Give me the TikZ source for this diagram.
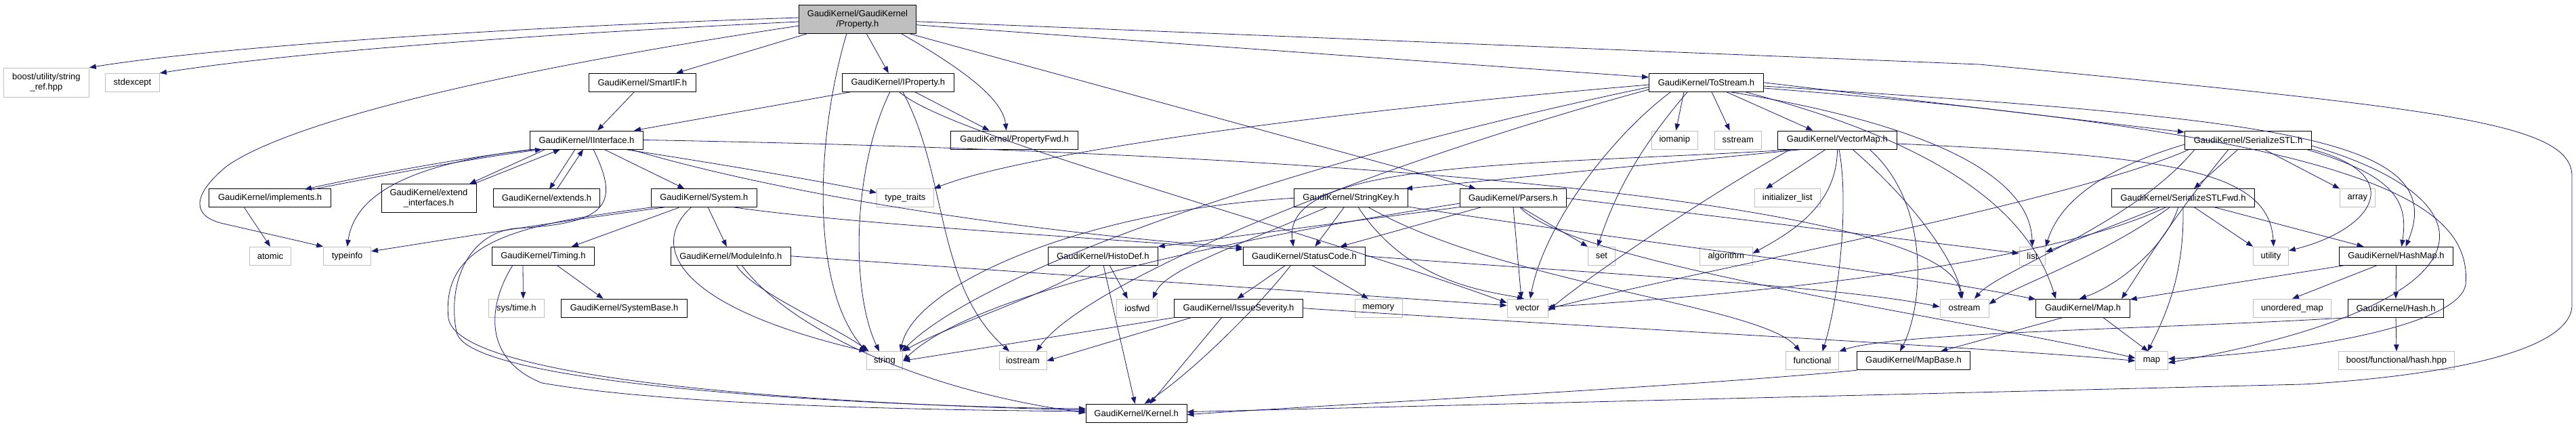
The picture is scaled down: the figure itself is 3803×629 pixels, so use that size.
\documentclass[tikz,border=0pt]{standalone}
\usepackage{fontspec}
\setmainfont{Liberation Sans}
\usetikzlibrary{arrows.meta}
\definecolor{edgec}{HTML}{191970}
\definecolor{sysc}{HTML}{BFBFBF}
\begin{document}
\begin{tikzpicture}[x=1pt,y=-1pt,
  box/.style={draw=black, fill=white, inner sep=0pt, minimum height=27pt, line width=0.9pt,
    font=\fontsize{13}{15}\selectfont, align=center},
  sys/.style={box, draw=sysc},
  dep/.style={draw=edgec, line width=0.8pt, -{Triangle[length=10pt,width=7.5pt]}}]
\useasboundingbox (0,0) rectangle (3803,629);
% row 1
\node[box, fill=sysc, minimum width=173pt, minimum height=42pt] (root) at (1266,28.3) {GaudiKernel/GaudiKernel\\/Property.h};
% row 2
\node[sys, minimum width=126pt, minimum height=43pt] (boost) at (68.4,121.7) {boost/utility/string\\\_ref.hpp};
\node[sys, minimum width=80pt] (stdexcept) at (195.5,121.8) {stdexcept};
\node[box, minimum width=157.5pt] (smartif) at (948.3,121.8) {GaudiKernel/SmartIF.h};
\node[box, minimum width=164.6pt] (iprop) at (1325.8,121.8) {GaudiKernel/IProperty.h};
\node[box, minimum width=169.2pt] (tostream) at (2519,121.8) {GaudiKernel/ToStream.h};
% row 3
\node[box, minimum width=167pt] (iinter) at (866,206.5) {GaudiKernel/IInterface.h};
\node[box, minimum width=187.4pt] (propfwd) at (1497.6,206.5) {GaudiKernel/PropertyFwd.h};
\node[sys, minimum width=67.9pt] (iomanip) at (2472.3,206.5) {iomanip};
\node[sys, minimum width=68.8pt] (sstream) at (2565.7,206.5) {sstream};
\node[box, minimum width=176.3pt] (vecmap) at (2712.3,206.5) {GaudiKernel/VectorMap.h};
\node[box, minimum width=187.3pt] (serstl) at (3319,206.5) {GaudiKernel/SerializeSTL.h};
% row 4
\node[box, minimum width=179.5pt] (impl) at (398.6,292.3) {GaudiKernel/implements.h};
\node[box, minimum width=140pt, minimum height=42pt] (extint) at (633,292.3) {GaudiKernel/extend\\\_interfaces.h};
\node[box, minimum width=157pt] (extends) at (807,292.3) {GaudiKernel/extends.h};
\node[box, minimum width=156pt] (system) at (1039.4,292.3) {GaudiKernel/System.h};
\node[sys, minimum width=83.8pt] (typetr) at (1336.4,292.3) {type\_traits};
\node[box, minimum width=168.3pt] (strkey) at (1994.5,292.3) {GaudiKernel/StringKey.h};
\node[box, minimum width=157pt] (parsers) at (2233.8,292.3) {GaudiKernel/Parsers.h};
\node[sys, minimum width=96.4pt] (initl) at (2638.8,292.3) {initializer\_list};
\node[box, minimum width=210.8pt] (serfwd) at (3223,292.3) {GaudiKernel/SerializeSTLFwd.h};
\node[sys, minimum width=51.9pt] (array) at (3480.3,292.3) {array};
% row 5
\node[sys, minimum width=61pt] (atomic) at (399,377.8) {atomic};
\node[sys, minimum width=70pt] (typeinfo) at (512.6,377.8) {typeinfo};
\node[box, minimum width=150.9pt] (timing) at (801.9,377.8) {GaudiKernel/Timing.h};
\node[box, minimum width=176.6pt] (modinfo) at (1078.8,377.8) {GaudiKernel/ModuleInfo.h};
\node[box, minimum width=161.7pt] (histo) at (1628.3,377.8) {GaudiKernel/HistoDef.h};
\node[box, minimum width=180.4pt] (status) at (1925.4,377.8) {GaudiKernel/StatusCode.h};
\node[sys, minimum width=40.2pt] (set) at (2364.4,377.8) {set};
\node[sys, minimum width=77.7pt] (algo) at (2548.2,377.8) {algorithm};
\node[sys, minimum width=38.4pt] (list) at (3000.4,377.8) {list};
\node[sys, minimum width=51.9pt] (utility) at (3352.5,377.8) {utility};
\node[box, minimum width=168.1pt] (hashmap) at (3537.5,377.8) {GaudiKernel/HashMap.h};
% row 6
\node[sys, minimum width=82.6pt] (systime) at (762.4,454.7) {sys/time.h};
\node[box, minimum width=186pt] (sysbase) at (921.6,454.7) {GaudiKernel/SystemBase.h};
\node[sys, minimum width=60pt] (iosfwd) at (1678.8,454.7) {iosfwd};
\node[box, minimum width=190pt] (issue) at (1828.5,454.7) {GaudiKernel/IssueSeverity.h};
\node[sys, minimum width=70pt] (memory) at (2035,454.7) {memory};
\node[sys, minimum width=60pt] (vector) at (2255,454.7) {vector};
\node[sys, minimum width=72pt] (ostream) at (2900,454.7) {ostream};
\node[box, minimum width=138.5pt] (map) at (3075,454.7) {GaudiKernel/Map.h};
\node[sys, minimum width=115.7pt] (umap) at (3384,454.7) {unordered\_map};
\node[box, minimum width=140.5pt] (hash) at (3537,454.7) {GaudiKernel/Hash.h};
% row 7
\node[sys, minimum width=53.7pt] (string) at (1306,532.3) {string};
\node[sys, minimum width=70pt] (iostream) at (1510,532.3) {iostream};
\node[sys, minimum width=78.5pt] (functional) at (2675.5,532.3) {functional};
\node[box, minimum width=167pt] (mapbase) at (2825,532.3) {GaudiKernel/MapBase.h};
\node[sys, minimum width=47.5pt] (stdmap) at (3176.5,532.3) {map};
\node[sys, minimum width=171.5pt] (boosthash) at (3538,532.3) {boost/functional/hash.hpp};
% row 8
\node[box, minimum width=148.7pt] (kernel) at (1677.6,609.7) {GaudiKernel/Kernel.h};
% ---------------- edges: root
\draw[dep] (1179.6,26) .. controls (700,42) and (300,72) .. (boost.north east);
\draw[dep] (1179.6,32) .. controls (700,55) and (400,82) .. (stdexcept.north east);
\draw[dep] (1179.6,38) .. controls (700,110) and (420,185) .. (335,245) .. controls (280,290) and (285,320) .. (330,330) -- (typeinfo.north west);
\draw[dep] (1193,49.3) -- ([xshift=50pt]smartif.north);
\draw[dep] (1279,49.3) -- ([xshift=-14pt]iprop.north);
\draw[dep] (1330,49.3) .. controls (1400,90) and (1480,140) .. ([xshift=-12pt]propfwd.north);
\draw[dep] (1250,49.3) .. controls (1205,200) and (1195,420) .. (string.north west);
\draw[dep] (1352.5,36.7) -- ([yshift=7.8pt]tostream.west);
\draw[dep] (1341,49.3) -- ([xshift=-55pt]parsers.north);
\draw[dep] (1352.5,31.7) -- (2922,95) .. controls (3600,160) and (3797,180) .. (3797,260) -- (3797,450) .. controls (3797,520) and (3600,555) .. (3400,567) -- ([yshift=2pt]kernel.east);
% SmartIF, IProperty
\draw[dep] ([xshift=-12pt]smartif.south) -- ([xshift=16pt]iinter.north);
\draw[dep] ([xshift=-70pt]iprop.south) -- ([xshift=70pt]iinter.north);
\draw[dep] ([xshift=25pt]iprop.south) -- ([xshift=-37pt]propfwd.north);
\draw[dep] ([xshift=-12pt]iprop.south) .. controls (1258,250) and (1256,430) .. ([xshift=-8pt]string.north);
\draw[dep] ([xshift=7pt]iprop.south) .. controls (1400,260) and (1380,420) .. ([xshift=-20pt]iostream.north);
\draw[dep] ([xshift=2pt]iprop.south) .. controls (1400,200) and (1900,330) .. ([yshift=8pt]vector.west);
% IInterface
\draw[dep] (790,220.5) .. controls (700,230) and (560,255) .. (450,279.3);
\draw[dep] (462,279.3) .. controls (570,258) and (700,233) .. (800,220.5);
\draw[dep] (805,220.5) -- (693,271.3);
\draw[dep] (699,271.3) -- (827,220.5);
\draw[dep] (849,220.5) -- (811,279.3);
\draw[dep] (822,279.3) -- (861,220.5);
\draw[dep] ([xshift=26pt]iinter.south) -- ([xshift=-29pt]system.north);
\draw[dep] (923,220.5) .. controls (1050,240) and (1200,265) .. ([yshift=8pt]typetr.west);
\draw[dep] (785,220.5) .. controls (620,240) and (525,280) .. (typeinfo.north);
\draw[dep] (931,220.5) .. controls (1200,300) and (1600,350) .. ([yshift=13pt]status.west);
\draw[dep] (iinter.east) .. controls (2000,225) and (2880,300) .. ([xshift=-5pt]ostream.north);
\draw[dep] (876,220.5) .. controls (915,300) and (900,330) .. (760,337) .. controls (690,345) and (660,420) .. (674,490) .. controls (690,570) and (1300,600) .. ([yshift=6.7pt]kernel.west);
\draw[dep] ([xshift=-38pt]impl.south) -- (atomic.north);
% System
\draw[dep] (983.5,305.5) .. controls (800,330) and (650,355) .. ([yshift=7pt]typeinfo.east);
\draw[dep] ([xshift=-37pt]system.south) -- ([xshift=42pt]timing.north);
\draw[dep] ([xshift=6pt]system.south) -- ([xshift=-6pt]modinfo.north);
\draw[dep] (1020.8,305.5) .. controls (960,360) and (990,450) .. (string.north west);
\draw[dep] (1081,305.5) .. controls (1250,330) and (1600,350) .. ([yshift=10pt]status.west);
\draw[dep] (965,305.5) .. controls (780,330) and (650,350) .. (662,470) .. controls (680,570) and (1300,598) .. ([yshift=4.7pt]kernel.west);
% Timing, ModuleInfo
\draw[dep] (772,391.3) -- ([xshift=10pt]systime.north);
\draw[dep] (822,391.3) -- ([xshift=-31pt]sysbase.north);
\draw[dep] (757,391.3) .. controls (720,450) and (712,530) .. (800,565) .. controls (1000,600) and (1400,605) .. ([yshift=2.7pt]kernel.west);
\draw[dep] (modinfo.east) -- ([yshift=4pt]vector.west);
\draw[dep] (1087,391.3) .. controls (1110,430) and (1230,480) .. ([xshift=4pt]string.north west);
\draw[dep] (1095,391.3) .. controls (1160,480) and (1350,575) .. ([yshift=0.7pt]kernel.west);
% HistoDef
\draw[dep] (1610,391.3) .. controls (1560,430) and (1400,480) .. (string.north east);
\draw[dep] (1629,391.3) -- ([xshift=-2pt]kernel.north);
\draw[dep] (1638,391.3) -- ([xshift=-14pt]iosfwd.north);
% StringKey
\draw[dep] (strkey.west) .. controls (1600,310) and (1350,420) .. ([xshift=-4pt]string.north east);
\draw[dep] (1959.6,305.5) .. controls (1800,373) and (1720,400) .. ([xshift=23pt]iosfwd.north);
\draw[dep] (1984.5,305.5) -- ([xshift=16pt]status.north);
\draw[dep] (2005,305.5) .. controls (2080,420) and (2200,430) .. ([xshift=-5pt]vector.north);
\draw[dep] (2019.7,305.5) .. controls (2220,420) and (2600,450) .. ([xshift=-18pt]functional.north);
\draw[dep] (2078.6,305) .. controls (2450,363) and (2800,400) .. ([yshift=13pt]map.west);
% Parsers
\draw[dep] (2155.3,305.5) -- (histo.north east);
\draw[dep] (2187.6,305.5) -- ([xshift=53pt]status.north);
\draw[dep] (2234,305.5) -- ([xshift=-9pt]vector.north);
\draw[dep] (2245,305.5) -- (set.north west);
\draw[dep] (parsers.east) -- ([yshift=4pt]list.west);
\draw[dep] (2243.6,305.5) .. controls (2320,390) and (2900,470) .. ([yshift=4pt]stdmap.west);
\draw[dep] (2155.3,300) .. controls (1900,340) and (1450,420) .. (string.east);
% ToStream
\draw[dep] ([xshift=-33pt]tostream.south) -- ([xshift=2pt]iomanip.north);
\draw[dep] ([xshift=8pt]tostream.south) -- ([xshift=-12pt]sstream.north);
\draw[dep] ([xshift=30pt]tostream.south) -- ([xshift=-36pt]vecmap.north);
\draw[dep] (tostream.east) -- ([yshift=11.5pt]serstl.west);
\draw[dep] (2434.4,125) .. controls (1900,170) and (1500,230) .. (typetr.north east);
\draw[dep] (2434.4,128.5) .. controls (1900,240) and (1450,400) .. ([xshift=-2pt]string.north east);
\draw[dep] (2434.4,132) .. controls (2000,250) and (1600,420) .. ([xshift=20pt]iostream.north);
\draw[dep] (2491.5,135.3) .. controls (2410,230) and (2380,300) .. ([xshift=-6pt]set.north);
\draw[dep] (2467,135.3) .. controls (2380,200) and (2280,330) .. ([xshift=4pt]vector.north);
\draw[dep] (2552,135.3) .. controls (2950,200) and (2998,300) .. (list.north);
\draw[dep] (2575,135.3) .. controls (2900,220) and (3000,330) .. ([xshift=-40pt]map.north);
\draw[dep] (2603.6,130) .. controls (3500,200) and (3650,300) .. (3640,420) .. controls (3630,480) and (3400,520) .. ([yshift=3pt]stdmap.east);
\draw[dep] (2603.6,127) .. controls (3350,175) and (3620,200) .. ([xshift=14pt]hashmap.north);
% VectorMap
\draw[dep] ([xshift=-17pt]vecmap.south) -- ([xshift=-32pt]initl.north);
\draw[dep] (2712.5,220.5) .. controls (2712,300) and (2650,340) .. ([yshift=4pt]algo.east);
\draw[dep] (2715,220.5) .. controls (2730,300) and (2715,440) .. ([xshift=15pt]functional.north);
\draw[dep] (2735,220.5) .. controls (2846,317) and (2890,400) .. ([xshift=-3pt]ostream.north);
\draw[dep] (2800,212) .. controls (3200,230) and (3350,250) .. ([xshift=4pt]utility.north);
\draw[dep] (2643,220.5) .. controls (2500,300) and (2330,420) .. ([yshift=-4pt]vector.east);
\draw[dep] (2760,220.5) .. controls (2850,300) and (2840,450) .. ([xshift=-20pt]mapbase.north);
\draw[dep] (2652,220.5) .. controls (2250,245) and (1890,235) .. ([xshift=-16pt]status.north);
\draw[dep] (2660,220.5) -- ([xshift=-4pt]strkey.north east);
% SerializeSTL
\draw[dep] ([xshift=-15pt]serstl.south) -- ([xshift=16pt]serfwd.north);
\draw[dep] (3343,220.5) -- (array.north west);
\draw[dep] (serstl.south east) .. controls (3560,260) and (3500,340) .. ([yshift=8pt]utility.east);
\draw[dep] (3405,220.5) .. controls (3540,260) and (3555,300) .. ([xshift=8pt]hashmap.north);
\draw[dep] (3225.3,213) .. controls (3100,250) and (3040,300) .. (list.north east);
\draw[dep] (3240,220.5) .. controls (3150,330) and (2950,400) .. ([xshift=15pt]ostream.north);
\draw[dep] (3232,220.5) .. controls (3050,300) and (2500,400) .. ([yshift=-1pt]vector.east);
\draw[dep] (3412.6,215) .. controls (3700,300) and (3680,450) .. ([yshift=-3pt]stdmap.east);
\draw[dep] (3290,220.5) .. controls (3200,330) and (3160,400) .. ([xshift=57pt]map.north);
% SerializeSTLFwd
\draw[dep] (3189,305.5) -- ([yshift=6pt]list.east);
\draw[dep] (3203.7,305.5) .. controls (3100,380) and (2980,420) .. ([yshift=6pt]ostream.east);
\draw[dep] (3198,305.5) .. controls (3000,400) and (2500,440) .. ([yshift=2pt]vector.east);
\draw[dep] (3215.7,305.5) .. controls (3200,360) and (3130,420) .. ([xshift=-5pt]map.north);
\draw[dep] (3222.9,305.5) .. controls (3225,400) and (3200,460) .. ([xshift=-6pt]stdmap.north);
\draw[dep] (3239,305.5) -- (utility.north west);
\draw[dep] (3268,305.5) -- ([xshift=-48pt]hashmap.north);
% HashMap, Hash, Map, MapBase
\draw[dep] (3463,391.3) -- ([yshift=-1pt]map.north east);
\draw[dep] (3510,391.3) -- (umap.north);
\draw[dep] (hashmap.south) -- (hash.north);
\draw[dep] (hash.south west) .. controls (3200,485) and (2800,490) .. (functional.north east);
\draw[dep] (hash.south) -- (boosthash.north);
\draw[dep] ([xshift=-30pt]map.south) -- ([xshift=40pt]mapbase.north);
\draw[dep] ([xshift=30pt]map.south) -- ([xshift=-5pt]stdmap.north);
\draw[dep] (mapbase.south west) .. controls (2500,570) and (2000,595) .. ([yshift=-2pt]kernel.east);
% StatusCode, IssueSeverity
\draw[dep] ([xshift=-28pt]status.south) -- ([xshift=-2pt]issue.north);
\draw[dep] ([xshift=12pt]status.south) -- ([xshift=-15pt]memory.north);
\draw[dep] (status.east) .. controls (2300,400) and (2700,420) .. ([yshift=2pt]ostream.west);
\draw[dep] ([xshift=-20pt]status.south) .. controls (1860,450) and (1760,550) .. ([xshift=12pt]kernel.north);
\draw[dep] (issue.south west) -- (string.east);
\draw[dep] ([xshift=-70pt]issue.south) -- (iostream.east);
\draw[dep] ([xshift=-25pt]issue.south) -- ([xshift=20pt]kernel.north);
\draw[dep] (issue.east) .. controls (2300,480) and (2900,510) .. (stdmap.west);
\end{tikzpicture}
\end{document}
